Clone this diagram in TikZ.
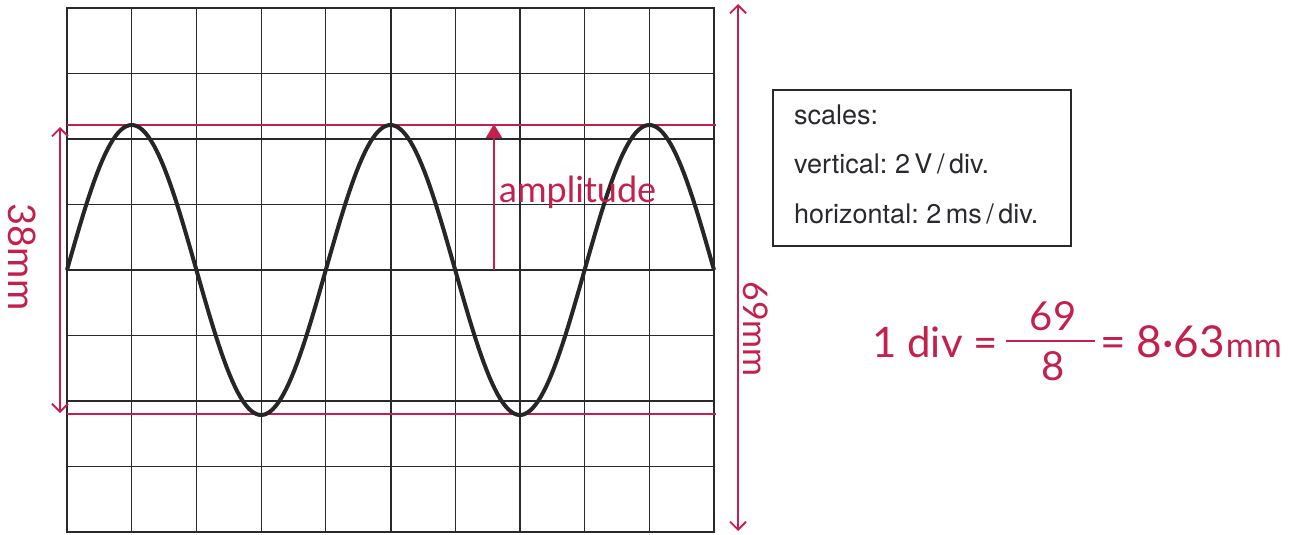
\documentclass[tikz,border=0pt]{standalone}
\usepackage{fontspec}
\setmainfont{TeX Gyre Heros}
\newfontfamily\handfont{Lato}
\usetikzlibrary{arrows.meta}
\definecolor{ink}{RGB}{40,40,45}
\definecolor{pen}{RGB}{196,32,78}
\tikzset{
  gridline/.style={ink, line width=1.2pt},
  frameline/.style={ink, line width=2pt},
  wave/.style={black!85, line width=4pt},
  penline/.style={pen, line width=1.8pt},
  dimarrow/.style={pen, line width=1.8pt, {Straight Barb[length=8pt,width=16pt]}-{Straight Barb[length=8pt,width=16pt]}},
  penfont/.style={pen, font=\handfont\fontsize{32}{34}\selectfont, inner sep=0pt},
  calcfont/.style={pen, font=\handfont\fontsize{40}{42}\selectfont, inner sep=0pt},
  boxtext/.style={anchor=west, ink, font=\fontsize{27}{30}\selectfont\frenchspacing, inner sep=0pt}
}
\begin{document}
\begin{tikzpicture}[x=1pt,y=-1pt]
\useasboundingbox (0,0) rectangle (1293,535);
% grid
\foreach \i in {1,...,9} {
  \draw[gridline] ({67+\i*64.7},8) -- ({67+\i*64.7},532);
}
\foreach \j in {1,...,7} {
  \draw[gridline] (67,{8+\j*65.5}) -- (714,{8+\j*65.5});
}
\draw[frameline] (67,270) -- (714,270);
\draw[frameline] (390.5,8) -- (390.5,532);
\draw[frameline] (67,8) rectangle (714,532);
% red horizontal lines
\coordinate (tl) at (67,125);
\coordinate (tr) at (716,125);
\coordinate (bl) at (67,414);
\coordinate (br) at (716,414);
\draw[penline] (tl) -- (tr);
\draw[penline] (bl) -- (br);
% wave
\draw[wave, line join=round] plot[domain=67:714, samples=240] (\x, {270 - 145*sin((\x-67)/258.8*360)});
% amplitude arrow
\coordinate (a0) at (494,270);
\coordinate (a1) at (494,124);
\draw[pen, line width=2pt, -{Triangle[length=14pt,width=16pt]}] (a0) -- (a1);
\node[penfont, anchor=west, font=\handfont\fontsize{36}{38}\selectfont] (amp) at (499,192) {amplitude};
% 38mm arrow
\coordinate (l0) at (60,127);
\coordinate (l1) at (60,413);
\draw[dimarrow] (l0) -- (l1);
\node[penfont, rotate=-90, font=\handfont\fontsize{38}{40}\selectfont] (m38) at (22,257) {38mm};
% 69mm arrow
\coordinate (r0) at (738,4);
\coordinate (r1) at (738,531);
\draw[dimarrow] (r0) -- (r1);
\node[penfont, rotate=-90, font=\handfont\fontsize{34}{36}\selectfont] (m69) at (756,329) {69mm};
% scales box
\node[draw=ink, line width=2pt, minimum width=298pt, minimum height=156pt] (box) at (922,168) {};
\node[boxtext] (s1) at (794,115) {scales:};
\node[boxtext] (s2) at (794,164) {vertical: 2\,V\,/\,div.};
\node[boxtext] (s3) at (794,214) {horizontal: 2\,ms\,/\,div.};
% calculation
\node[calcfont, anchor=east, font=\handfont\fontsize{42}{44}\selectfont] (c1) at (998,342) {1 div =};
\node[calcfont] (num) at (1053,316) {69};
\node[calcfont] (den) at (1053,366) {8};
\coordinate (f0) at (1006,341);
\coordinate (f1) at (1095,341);
\draw[penline] (f0) -- (f1);
\node[calcfont, anchor=west, font=\handfont\fontsize{44}{46}\selectfont] (c2) at (1100,342) {= 8·63\kern1pt{\fontsize{34}{36}\selectfont mm}};
\end{tikzpicture}
\end{document}
